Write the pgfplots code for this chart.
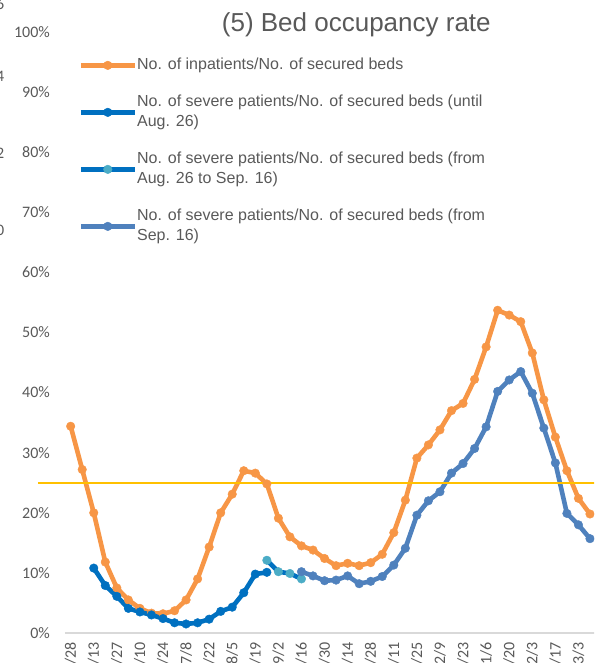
\documentclass[border=0pt]{standalone}
\usepackage{pgfplots}
\pgfplotsset{compat=1.18}
\usepackage{fontspec}
\setmainfont{Liberation Sans}
\newfontfamily\carlito{Carlito}
\definecolor{cOrange}{HTML}{F79646}
\definecolor{cBlue}{HTML}{0070C0}
\definecolor{cLight}{HTML}{4BACC6}
\definecolor{cSteel}{HTML}{4F81BD}
\definecolor{cYellow}{HTML}{FFC000}
\definecolor{cText}{HTML}{595959}
\definecolor{cAxis}{HTML}{D9D9D9}
\newcommand\lt[1]{\begin{tabular}{@{}l@{}}\rule{0pt}{22.5pt}#1\rule[-14.5pt]{0pt}{14.5pt}\end{tabular}}
\begin{document}
\begin{tikzpicture}[x=1pt,y=1pt]
\path[use as bounding box] (0,0) rectangle (594,663);
\clip (0,0) rectangle (594,663);
% remnants of the neighbouring chart's axis
\begin{scope}[every node/.style={anchor=east,inner sep=0pt,text=cText,font=\carlito\fontsize{16}{19}\selectfont}]
\node at (4.5,659) {6};
\node at (4.5,587) {4};
\node at (4.5,510) {2};
\node at (4.5,433) {0};
\end{scope}
\node[anchor=base west,inner sep=0pt,text=cText,font=\fontsize{26}{30}\selectfont] at (221.7,631.3) {(5) Bed occupancy rate};
\begin{axis}[
  at={(64.9pt,30pt)}, anchor=south west,
  x=11.54pt, y=6.01pt,
  xmin=-0.5, xmax=45.5, ymin=0, ymax=100,
  clip=false,
  axis x line*=bottom, axis y line*=left,
  y axis line style={draw=none},
  x axis line style={cAxis,line width=1.6pt},
  tick style={draw=none},
  xtick={0,2,...,44},
  xticklabels={4/28,5/13,5/27,6/10,6/24,7/8,7/22,8/5,8/19,9/2,9/16,9/30,10/14,10/28,11/11,11/25,12/9,12/23,1/6,1/20,2/3,2/17,3/3},
  xticklabel style={rotate=90,anchor=east,inner sep=0pt,font=\carlito\fontsize{16}{19}\selectfont,text=cText},
  xticklabel shift=9pt,
  ytick={0,10,...,100},
  yticklabels={0\%,10\%,20\%,30\%,40\%,50\%,60\%,70\%,80\%,90\%,100\%},
  yticklabel style={anchor=east,inner sep=0pt,font=\carlito\fontsize{16}{19}\selectfont,text=cText},
  yticklabel shift=14.9pt,
  legend style={at={(0.0252,0.9756)},anchor=north west,draw=none,fill=none,inner sep=0pt,
    column sep=0pt,row sep=0pt,font=\fontsize{16}{20}\selectfont,text=cText,
    nodes={inner sep=0pt,text depth=}},
  legend cell align=left,
  legend image code/.code={\draw[mark repeat=2,mark phase=2,#1] plot coordinates {(0pt,0pt) (27pt,0pt) (54pt,0pt)};},
  every axis plot/.append style={line width=4.6pt,line join=round,mark=*,mark size=4.3pt},
]
\addplot[cOrange,mark options={fill=cOrange,draw=cOrange,line width=0.4pt}] coordinates {
(0,34.4)(1,27.2)(2,20.0)(3,11.8)(4,7.5)(5,5.5)(6,4.1)(7,3.3)(8,3.2)(9,3.7)
(10,5.5)(11,9.0)(12,14.3)(13,20.0)(14,23.1)(15,27.0)(16,26.6)(17,24.8)(18,19.1)(19,16.0)
(20,14.5)(21,13.8)(22,12.4)(23,11.2)(24,11.6)(25,11.2)(26,11.7)(27,13.1)(28,16.7)(29,22.1)
(30,29.1)(31,31.3)(32,33.8)(33,37.0)(34,38.2)(35,42.2)(36,47.6)(37,53.7)(38,52.9)(39,51.8)
(40,46.6)(41,38.8)(42,32.6)(43,27.0)(44,22.4)(45,19.8)};
\addlegendentry{\lt{No. of inpatients/No. of secured beds}}
\addplot[cBlue,mark options={fill=cBlue,draw=cBlue,line width=0.4pt}] coordinates {
(2,10.8)(3,7.9)(4,6.1)(5,4.1)(6,3.5)(7,3.0)(8,2.4)(9,1.7)(10,1.5)(11,1.7)
(12,2.3)(13,3.6)(14,4.3)(15,6.7)(16,9.8)(17,10.1)};
\addlegendentry{\lt{No. of severe patients/No. of secured beds (until\\Aug. 26)}}
\addplot[cBlue,mark options={fill=cLight,draw=cLight,line width=0.4pt}] coordinates {
(17,12.1)(18,10.2)(19,9.9)(20,9.0)};
\addlegendentry{\lt{No. of severe patients/No. of secured beds (from\\Aug. 26 to Sep. 16)}}
\addplot[cSteel,mark options={fill=cSteel,draw=cSteel,line width=0.4pt}] coordinates {
(20,10.2)(21,9.5)(22,8.7)(23,8.8)(24,9.5)(25,8.2)(26,8.6)(27,9.4)(28,11.3)(29,14.1)
(30,19.6)(31,22.0)(32,23.5)(33,26.6)(34,28.2)(35,30.7)(36,34.3)(37,40.2)(38,42.1)(39,43.5)
(40,39.9)(41,34.1)(42,28.3)(43,19.9)(44,18.0)(45,15.7)};
\addlegendentry{\lt{No. of severe patients/No. of secured beds (from\\Sep. 16)}}
\draw[cYellow,line width=2pt] (axis cs:-2.85,25) -- (axis cs:46.5,25);
\end{axis}
\end{tikzpicture}
\end{document}
